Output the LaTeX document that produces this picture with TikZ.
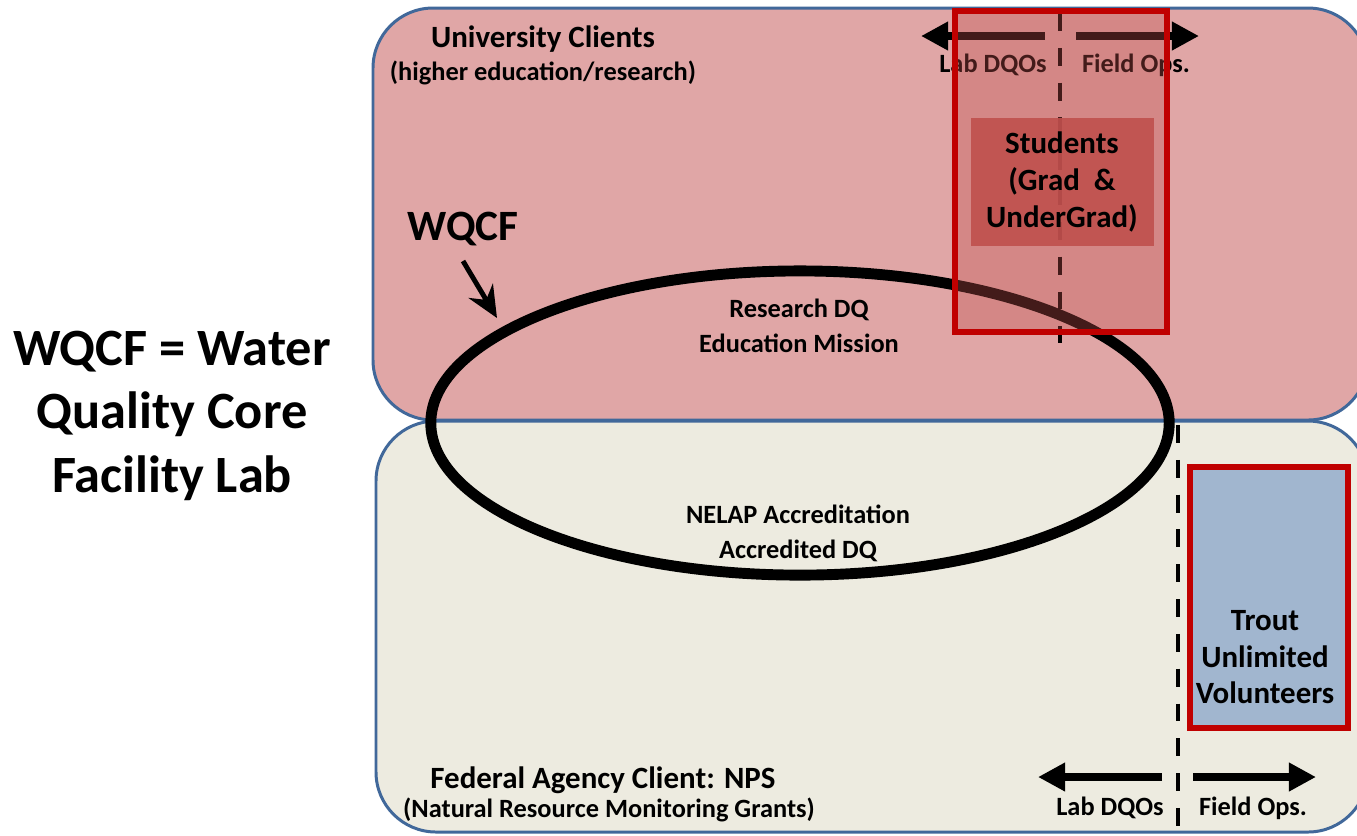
\documentclass[tikz,border=0pt]{standalone}
\usepackage{fontspec}
\setmainfont{Carlito}
\usetikzlibrary{arrows.meta}
\definecolor{topfill}{HTML}{E0A6A6}
\definecolor{botfill}{HTML}{EDEBE0}
\definecolor{frameblue}{HTML}{41689A}
\definecolor{accred}{HTML}{C00000}
\definecolor{overlayred}{HTML}{C0504D}
\definecolor{troutfill}{HTML}{A1B6CF}
\begin{document}
\begin{tikzpicture}[x=0.01cm,y=-0.01cm,
  every node/.style={inner sep=0pt, font=\bfseries},
  region/.style={draw=frameblue, line width=0.85pt, rounded corners=0.6cm},
  divider/.style={draw=black, line width=1.4pt, dash pattern=on 5.1pt off 4.8pt},
  dirarrow/.style={line width=2.3pt, -{Triangle[length=7.7pt,width=7.7pt]}},
  redframe/.style={draw=accred, line width=1.7pt},
  bigtxt/.style={font=\fontsize{14.9}{18}\selectfont\bfseries},
  labtxt/.style={font=\fontsize{12.3}{14}\selectfont\bfseries},
  headtxt/.style={font=\fontsize{8.8}{10}\selectfont\bfseries},
  subtxt/.style={font=\fontsize{7.5}{9}\selectfont\bfseries},
  dirtxt/.style={font=\fontsize{7.5}{9}\selectfont\bfseries},
  base/.style={anchor=base}
]
\clip (0,0) rectangle (1357,835);
\fill[white] (0,0) rectangle (1357,835);

% regions
\path[region, fill=botfill] (376,421) rectangle (1368,832);
\path[region, fill=topfill] (373,8) rectangle (1368,420);

% WQCF ellipse
\draw[line width=3.1pt] (800,423) ellipse [x radius=3.69cm, y radius=1.52cm];

% region texts
\node[headtxt, base] (uc) at (543,47) {University Clients};
\node[subtxt, base] (ucs) at (543,80) {(higher education/research)};
\node[headtxt, base] (fa) at (603,788) {Federal Agency Client: NPS};
\node[subtxt, base] (fas) at (609,817) {(Natural Resource Monitoring Grants)};

% ellipse texts
\node[subtxt, base] (r1) at (799,317) {Research DQ};
\node[subtxt, base] (r2) at (799,352) {Education Mission};
\node[subtxt, base] (n1) at (798,523) {NELAP Accreditation};
\node[subtxt, base] (n2) at (798,558) {Accredited DQ};

% left title
\node[bigtxt, base] (t1) at (172,365) {WQCF = Water};
\node[bigtxt, base] (t2) at (172,428) {Quality Core};
\node[bigtxt, base] (t3) at (172,492) {Facility Lab};

% WQCF pointer
\node[labtxt, base] (wq) at (463,240) {WQCF};
\coordinate (wqs) at (463,261);
\coordinate (wqe) at (497,318);
\draw[line width=1.4pt, -{Stealth[length=9pt,width=8pt,inset=3pt]}] (wqs) -- (wqe);

% top divider and arrows
\coordinate (tdA) at (1060,13);
\coordinate (tdB) at (1060,343);
\draw[divider] (tdA) -- (tdB);
\coordinate (tlA) at (1045,36);
\coordinate (tlB) at (921,36);
\coordinate (trA) at (1076,36);
\coordinate (trB) at (1199,36);
\draw[dirarrow] (tlA) -- (tlB);
\draw[dirarrow] (trA) -- (trB);
\node[dirtxt, base] (tlab) at (993,72) {Lab DQOs};
\node[dirtxt, base] (tfield) at (1136,72) {Field Ops.};

% students column overlay
\path[redframe, fill=overlayred, fill opacity=0.35] (955,11) rectangle (1167,332);
\fill[overlayred, opacity=0.9] (971,118) rectangle (1154,246);
\node[headtxt, base] (s1) at (1062,153) {Students};
\node[headtxt, base] (s2) at (1062,190) {(Grad\ \ \&};
\node[headtxt, base] (s3) at (1062,227) {UnderGrad)};

% bottom divider and arrows
\coordinate (bdA) at (1178,425);
\coordinate (bdB) at (1178,828);
\draw[divider] (bdA) -- (bdB);
\coordinate (blA) at (1162,777);
\coordinate (blB) at (1038,777);
\coordinate (brA) at (1193,777);
\coordinate (brB) at (1316,777);
\draw[dirarrow] (blA) -- (blB);
\draw[dirarrow] (brA) -- (brB);
\node[dirtxt, base] (blab) at (1110,815) {Lab DQOs};
\node[dirtxt, base] (bfield) at (1253,815) {Field Ops.};

% trout unlimited box
\path[redframe, fill=troutfill] (1190,467) rectangle (1348,728);
\node[headtxt, base] (tu1) at (1265,630) {Trout};
\node[headtxt, base] (tu2) at (1265,667) {Unlimited};
\node[headtxt, base] (tu3) at (1265,703) {Volunteers};
\end{tikzpicture}
\end{document}
